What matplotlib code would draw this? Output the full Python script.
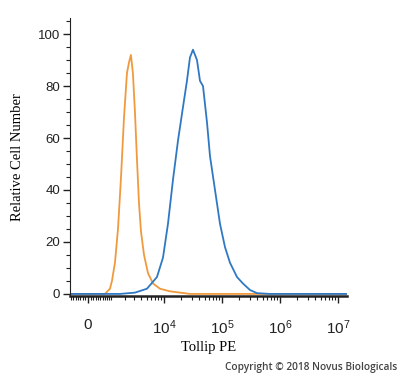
import numpy as np
import matplotlib
matplotlib.use('Agg')
import matplotlib.pyplot as plt
from matplotlib.ticker import FixedLocator, NullFormatter

# --- data (fluorescence intensity vs relative cell number) ---
orange_x = [-760, 712, 968, 1080, 1262, 1465, 1687, 1931, 2199, 2395, 2605,
            2834, 3087, 3352, 3646, 3959, 4479, 5263, 6439, 8516, 12640, 28100, 1.4e7]
orange_y = [0, 0, 2, 5, 12, 25, 45, 68, 85, 89, 92,
            85, 70, 52, 35, 24, 15, 8, 4, 2, 1, 0, 0]

blue_x = [-760, 1610, 3087, 5048, 7546, 9604, 11710, 14300, 17440, 21300, 24900,
          28060, 31650, 37090, 41800, 47100, 55200, 62200, 75850, 92450, 112800,
          137500, 181600, 230500, 304300, 401800, 673000, 1.4e7]
blue_y = [0, 0, 0.5, 2, 6.5, 14, 27, 44, 59, 72, 82,
          91, 94, 90, 82, 80, 66, 53, 40, 27, 18,
          12, 6.5, 4, 1.5, 0.3, 0, 0]

x_ticks = [0, 1e4, 1e5, 1e6, 1e7]
x_ticklabels = ['0', r'$10^{4}$', r'$10^{5}$', r'$10^{6}$', r'$10^{7}$']
y_ticks = [0, 20, 40, 60, 80, 100]

plt.rcParams['mathtext.fontset'] = 'custom'
plt.rcParams['mathtext.rm'] = 'Liberation Sans'
plt.rcParams['mathtext.it'] = 'Liberation Sans'

# biexponential-like display (arcsinh)
W = 980.0
def fwd(x):
    return np.arcsinh(np.asarray(x) / W)
def inv(y):
    return W * np.sinh(np.asarray(y))

fig = plt.figure(figsize=(4.0, 3.78), dpi=100)
ax = fig.add_axes([70 / 400, 1 - 296 / 378, 277 / 400, 278 / 378])
ax.set_xscale('function', functions=(fwd, inv))

ax.plot(orange_x, orange_y, color='#F09A3E', lw=1.3)
ax.plot(blue_x, blue_y, color='#2F78C4', lw=1.3)

ax.set_xlim(-760, 1.43e7)
ax.set_ylim(-0.8, 106.2)

# ticks
ax.xaxis.set_major_locator(FixedLocator(x_ticks))
ax.set_xticklabels(x_ticklabels)
minors = []
for d in [1e4, 1e5, 1e6]:
    minors += [d * k for k in range(2, 10)]
minors += [1000 * k for k in range(1, 10)]
minors += [100 * k for k in range(1, 10)] + [-100 * k for k in range(1, 8)]
ax.xaxis.set_minor_locator(FixedLocator(minors))
ax.xaxis.set_minor_formatter(NullFormatter())
ax.yaxis.set_major_locator(FixedLocator(y_ticks))
ax.yaxis.set_minor_locator(FixedLocator([v for v in range(5, 106, 5) if v % 20]))

ax.tick_params(axis='x', which='major', direction='out', length=5, width=1,
               pad=11, labelsize=11, color='#222222')
ax.tick_params(axis='x', which='minor', direction='out', length=3, width=0.8,
               color='#222222')
ax.tick_params(axis='y', which='major', direction='out', length=5, width=1,
               pad=2, labelsize=9.5, color='#222222')
ax.tick_params(axis='y', which='minor', direction='out', length=3, width=0.8,
               color='#222222')
for lab in ax.get_xticklabels() + ax.get_yticklabels():
    lab.set_family('Liberation Sans')
    lab.set_color('#222222')

ax.spines['top'].set_visible(False)
ax.spines['right'].set_visible(False)
ax.spines['left'].set_color('#222222')
ax.spines['bottom'].set_color('#222222')
ax.spines['bottom'].set_linewidth(1.8)

ax.set_xlabel('Tollip PE', family='Liberation Serif', fontsize=10.5, labelpad=3)
ax.set_ylabel('Relative Cell Number', family='Liberation Serif', fontsize=10.5,
              labelpad=10)

fig.text(0.992, 0.012, 'Copyright \u00a9 2018 Novus Biologicals', ha='right',
         va='bottom', fontsize=7.3, color='#444444', family='Open Sans',
         weight='semibold')

fig.savefig('out.png', dpi=100)
